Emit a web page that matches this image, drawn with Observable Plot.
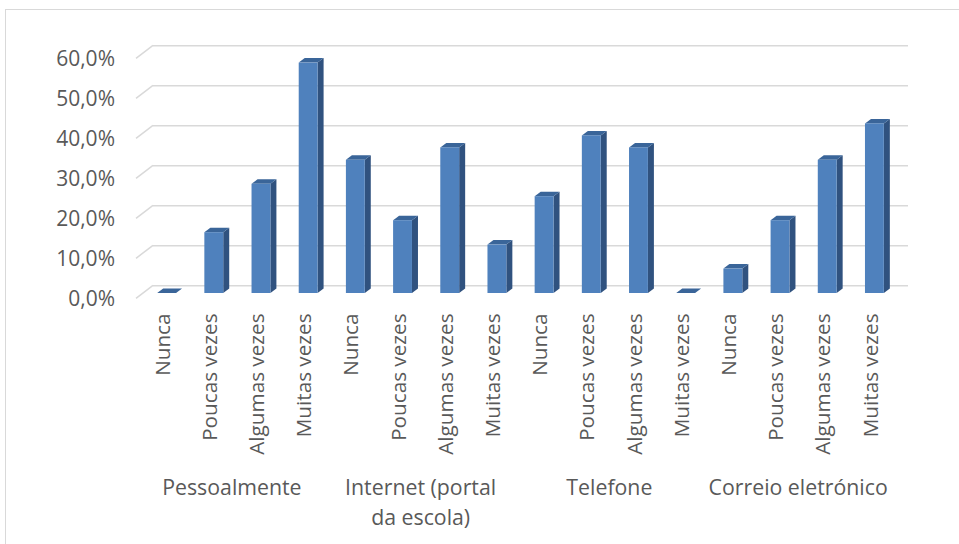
<!DOCTYPE html>
<html>
<head>
<meta charset="utf-8">
<script src="https://cdn.jsdelivr.net/npm/d3@7"></script>
<script src="https://cdn.jsdelivr.net/npm/@observablehq/plot@0.6"></script>
<style>
  html, body { margin: 0; padding: 0; background: #ffffff; overflow: hidden; }
  #wrap { position: relative; width: 959px; height: 544px; }
  #border { position: absolute; left: 5px; top: 9px; width: 1000px; height: 600px;
            border-left: 1.5px solid #d9d9d9; border-top: 1.5px solid #d9d9d9; }
  #chart { position: absolute; left: 0; top: 0; }
</style>
</head>
<body>
<div id="wrap"><div id="border"></div><div id="chart"></div></div>
<script>
// Categories
const groups = ["Pessoalmente", "Internet (portal\nda escola)", "Telefone", "Correio eletrónico"];
const levels = ["Nunca", "Poucas vezes", "Algumas vezes", "Muitas vezes"];

// Percentages per contact channel, in the order of `levels`
const pessoalmente = [0, 15.2, 27.3, 57.6];
const internet = [33.3, 18.2, 36.4, 12.1];
const telefone = [24.2, 39.4, 36.4, 0];
const correio = [6.1, 18.2, 33.3, 42.4];

// Value-axis ticks
const yTicks = [0, 10, 20, 30, 40, 50, 60];

const series = [pessoalmente, internet, telefone, correio];
const rows = groups.flatMap((g, gi) =>
  levels.map((l, li) => ({group: g, level: l, key: gi + "|" + l, value: series[gi][li]}))
);
const keys = rows.map(d => d.key);
const groupRows = groups.map((g, gi) => ({name: g, key: gi + "|" + levels[1]}));

const fmt = d => d.toFixed(1).replace(".", ",") + "%";
const FONT = "Open Sans";

// 3D look: offsets of the back wall and the front (label) plane from the bar faces
const BACK = {dx: 10, dy: -7.7};
const FRONT = {dx: -7, dy: 5.3};
const DEPTH = {dx: 6, dy: -4.5}; // depth of each column

const svgNS = "http://www.w3.org/2000/svg";
function poly(points, fill) {
  const p = document.createElementNS(svgNS, "polygon");
  p.setAttribute("points", points.map(q => q.join(",")).join(" "));
  p.setAttribute("fill", fill);
  return p;
}

// Side walls of the gridlines and the top/side faces of the columns
function depthFaces(index, scales, values, dimensions) {
  const {x, y} = scales;
  const bw = x.bandwidth ? x.bandwidth() : 0;
  const g = document.createElementNS(svgNS, "g");
  const left = dimensions.marginLeft;
  for (const t of yTicks) {
    const l = document.createElementNS(svgNS, "line");
    l.setAttribute("x1", left + FRONT.dx);
    l.setAttribute("y1", y(t) + FRONT.dy);
    l.setAttribute("x2", left + BACK.dx);
    l.setAttribute("y2", y(t) + BACK.dy);
    l.setAttribute("stroke", "#d9d9d9");
    l.setAttribute("stroke-width", 1.5);
    g.appendChild(l);
  }
  for (const d of rows) {
    const x0 = x(d.key), x1 = x0 + bw, yt = y(d.value), yb = y(0);
    g.appendChild(poly([[x1, yb], [x1 + DEPTH.dx, yb + DEPTH.dy], [x1 + DEPTH.dx, yt + DEPTH.dy], [x1, yt]], "#30527f"));
    g.appendChild(poly([[x0, yt], [x0 + DEPTH.dx, yt + DEPTH.dy], [x1 + DEPTH.dx, yt + DEPTH.dy], [x1, yt]], "#3a6599"));
  }
  return g;
}

const chart = Plot.plot({
  width: 959,
  height: 544,
  marginLeft: 143,
  marginRight: 61,
  marginTop: 53,
  marginBottom: 251,
  style: {background: "transparent", color: "#595959"},
  x: {domain: keys, paddingInner: 0.6, paddingOuter: 0.3, round: false, axis: null},
  y: {domain: [0, 60], axis: null},
  marks: [
    Plot.ruleY(yTicks, {y: d => d, dx: BACK.dx, dy: BACK.dy, stroke: "#d9d9d9", strokeWidth: 1.5}),
    depthFaces,
    Plot.barY(rows, {x: "key", y: "value", fill: "#4f81bd"}),
    Plot.text(yTicks, {y: d => d, text: fmt, frameAnchor: "left", textAnchor: "end",
      dx: -28.5, dy: 6, fontSize: 21, fontFamily: FONT, fill: "#595959"}),
    Plot.text(rows, {x: "key", text: "level", frameAnchor: "bottom", rotate: -90, textAnchor: "end",
      lineAnchor: "middle", dx: -4, dy: 20, fontSize: 20.7, fontFamily: FONT, fill: "#595959"}),
    Plot.text(groupRows, {x: "key", text: "name", frameAnchor: "bottom", lineAnchor: "top",
      textAnchor: "middle", dx: 17.6, dy: 181, fontSize: 21.3, lineHeight: 1.38,
      fontFamily: FONT, fill: "#595959"})
  ]
});
document.getElementById("chart").appendChild(chart);
</script>
</body>
</html>
